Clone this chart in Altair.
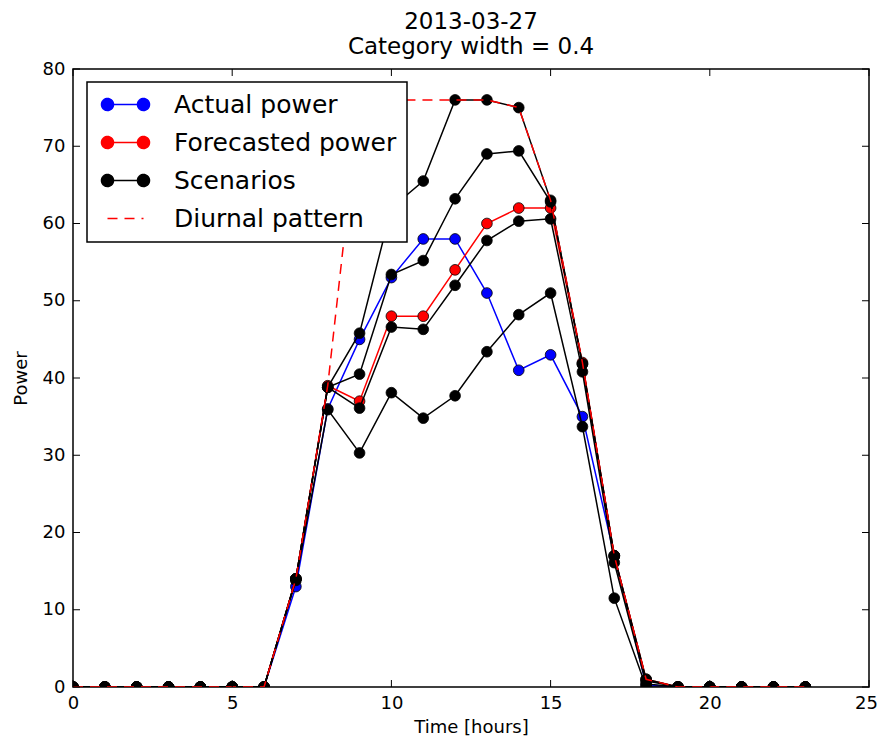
import altair as alt
import pandas as pd

# ---- data ----
hours = list(range(24))
actual = [0, 0, 0, 0, 0, 0, 0, 13, 36, 45, 53, 58, 58, 51, 41, 43, 35, 17, 0.3, 0, 0, 0, 0, 0]
forecast = [0, 0, 0, 0, 0, 0, 0, 14, 39, 37, 48, 48, 54, 60, 62, 62, 42, 17, 1, 0, 0, 0, 0, 0]
diurnal = [0, 0, 0, 0, 0, 0, 0, 14, 39, 76, 76, 76, 76, 76, 75, 63, 42, 17, 1, 0, 0, 0, 0, 0]
scen1 = [0, 0, 0, 0, 0, 0, 0, 14, 38.8, 45.8, 62, 65.5, 76, 76, 75, 63, 41.8, 17, 1, 0, 0, 0, 0, 0]
scen2 = [0, 0, 0, 0, 0, 0, 0, 14, 38.8, 40.5, 53.4, 55.2, 63.2, 69, 69.4, 62.8, 41.8, 16.9, 0.8, 0, 0, 0, 0, 0]
scen3 = [0, 0, 0, 0, 0, 0, 0, 14, 38.8, 36.1, 46.6, 46.3, 52, 57.8, 60.3, 60.6, 40.8, 16.1, 0.4, 0, 0, 0, 0, 0]
scen4 = [0, 0, 0, 0, 0, 0, 0, 13.8, 35.9, 30.3, 38.1, 34.8, 37.7, 43.4, 48.2, 51, 33.7, 11.5, 0, 0, 0, 0, 0, 0]

series_names = ["Actual power", "Forecasted power", "Scenarios", "Diurnal pattern"]
series_colors = ["blue", "red", "black", "red"]
series_dashes = [[1, 0], [1, 0], [1, 0], [10, 7]]

xticks = [0, 5, 10, 15, 20, 25]
yticks = [0, 10, 20, 30, 40, 50, 60, 70, 80]

title_lines = ["2013-03-27", "Category width = 0.4"]

# ---- long table ----
rows = []
def add(name, run, vals):
    for h, v in zip(hours, vals):
        rows.append({"hour": h, "value": v, "series": name, "run": run})

add("Actual power", "a", actual)
add("Forecasted power", "f", forecast)
for i, s in enumerate([scen1, scen2, scen3, scen4]):
    add("Scenarios", "s%d" % i, s)
add("Diurnal pattern", "d", diurnal)
df = pd.DataFrame(rows)

W, H = 796, 618
FONT = "DejaVu Sans"

X = alt.X("hour:Q", scale=alt.Scale(domain=[0, 25], nice=False, zero=False),
          axis=alt.Axis(values=xticks, format="d", title="Time [hours]", labelFlush=False,
                        labelOffset={"condition": {"test": "datum.value === 25", "value": -3}, "value": 0}))
Y = alt.Y("value:Q", scale=alt.Scale(domain=[0, 80], nice=False),
          axis=alt.Axis(values=yticks, format="d", title="Power", labelFlush=False))

# legend glyphs: a short line with a marker at each end / a dashed line
circle_sym = ("M-0.2,0L3.4,0"
              "M-0.8,0A0.6,0.6 0 1,0 0.4,0A0.6,0.6 0 1,0 -0.8,0Z"
              "M2.8,0A0.6,0.6 0 1,0 4,0A0.6,0.6 0 1,0 2.8,0Z")
dash_sym = "M-0.2,0L3.4,0"
series_shapes = [circle_sym, circle_sym, circle_sym, dash_sym]

legend = alt.Legend(title=None, orient="none", legendX=14, legendY=13, symbolOpacity=1)

base = alt.Chart(df)

legend_layer = base.transform_filter("false").mark_point(filled=True).encode(
    x=X, y=Y,
    fill=alt.Fill("series:N", scale=alt.Scale(domain=series_names, range=series_colors), legend=legend),
    stroke=alt.Stroke("series:N", scale=alt.Scale(domain=series_names, range=series_colors), legend=legend),
    shape=alt.Shape("series:N", scale=alt.Scale(domain=series_names, range=series_shapes), legend=legend),
    strokeDash=alt.StrokeDash("series:N", scale=alt.Scale(domain=series_names, range=series_dashes), legend=legend),
)

def line_layer(name, color, dash=None):
    kw = dict(color=color, strokeWidth=1.5, clip=True)
    if dash:
        kw["strokeDash"] = dash
    return base.transform_filter(alt.datum.series == name).mark_line(**kw).encode(
        x=X, y=Y, detail="run:N")

def point_layer(name, color):
    return base.transform_filter(alt.datum.series == name).mark_point(
        shape="circle", filled=True, fill=color, stroke="black", strokeWidth=0.8,
        size=115, opacity=1, clip=True).encode(x=X, y=Y)

xt = pd.DataFrame({"hour": xticks})
yt = pd.DataFrame({"value": yticks})
tick_len = 7
ticks = [
    alt.Chart(xt).mark_rule(color="black", strokeWidth=1).encode(x=X, y=alt.value(H), y2=alt.value(H - tick_len)),
    alt.Chart(xt).mark_rule(color="black", strokeWidth=1).encode(x=X, y=alt.value(0), y2=alt.value(tick_len)),
    alt.Chart(yt).mark_rule(color="black", strokeWidth=1).encode(y=Y, x=alt.value(0), x2=alt.value(tick_len)),
    alt.Chart(yt).mark_rule(color="black", strokeWidth=1).encode(y=Y, x=alt.value(W), x2=alt.value(W - tick_len)),
]

chart = alt.layer(
    line_layer("Actual power", "blue"),
    point_layer("Actual power", "blue"),
    line_layer("Forecasted power", "red"),
    point_layer("Forecasted power", "red"),
    line_layer("Scenarios", "black"),
    point_layer("Scenarios", "black"),
    line_layer("Diurnal pattern", "red", dash=[10, 7]),
    *ticks,
    legend_layer,
).properties(
    width=W, height=H,
    title=alt.TitleParams(text=title_lines, fontSize=23, font=FONT, fontWeight="normal",
                          color="black", anchor="middle", offset=1, lineHeight=25),
    autosize=alt.AutoSizeParams(type="none"),
    padding={"left": 65, "top": 61, "right": 8, "bottom": 55},
).configure_view(
    stroke="black", strokeWidth=1.5
).configure_axis(
    labelFont=FONT, labelFontSize=18, labelColor="black", labelPadding=7,
    titleFont=FONT, titleFontSize=18, titleFontWeight="normal", titleColor="black",
    ticks=False, domain=False, grid=False,
).configure_axisX(titlePadding=6).configure_axisY(titlePadding=12, labelPadding=8).configure_legend(
    fillColor="white", strokeColor="black", strokeWidth=1.5, padding=10, cornerRadius=0,
    labelFont=FONT, labelFontSize=25, labelColor="black", labelOffset=52, labelLimit=500,
    symbolSize=400, symbolStrokeWidth=1.5, rowPadding=12,
)

chart.save("out.html", embed_options={"renderer": "svg", "actions": False})
